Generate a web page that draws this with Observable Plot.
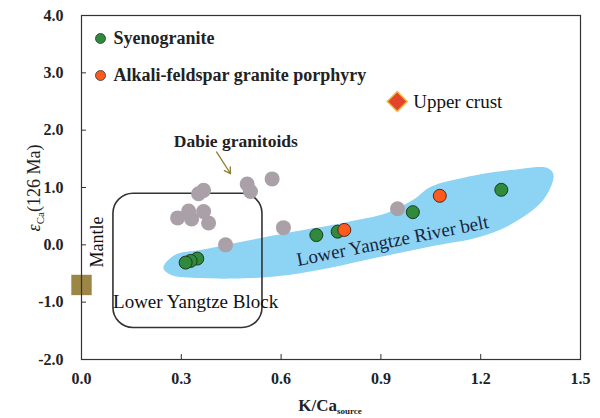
<!DOCTYPE html>
<html><head><meta charset="utf-8">
<script src="https://cdn.jsdelivr.net/npm/d3@7"></script>
<script src="https://cdn.jsdelivr.net/npm/@observablehq/plot@0.6"></script>
<style>
body{margin:0;background:#fff}
svg text, svg tspan { font-family: "Liberation Serif", "Times New Roman", "DejaVu Serif", serif !important; }
</style>
</head><body><div id="chart"></div>
<script>
const xTicks = [0, 0.3, 0.6, 0.9, 1.2, 1.5];
const yTicks = [-2, -1, 0, 1, 2, 3, 4];

const dabieX = [0.498, 0.508, 0.573, 0.367, 0.352, 0.289, 0.322, 0.331, 0.367, 0.382, 0.433, 0.607, 0.950];
const dabieY = [1.06, 0.93, 1.15, 0.95, 0.89, 0.47, 0.59, 0.45, 0.58, 0.38, 0.00, 0.30, 0.63];

const syenoX = [0.348, 0.328, 0.313, 0.706, 0.770, 0.996, 1.262];
const syenoY = [-0.24, -0.28, -0.31, 0.17, 0.23, 0.57, 0.96];

const porphX = [0.790, 1.077];
const porphY = [0.26, 0.855];

const upperCrust = {x: 0.949, y: 2.50};
const mantle = {x: 0.0, y: -0.70};

// outline of the Lower Yangtze River belt field
const beltX = [0.246, 0.283, 0.358, 0.478, 0.619, 0.800, 0.920, 0.998, 1.049, 1.148, 1.298, 1.401, 1.419, 1.389, 1.298, 1.199, 1.049, 0.899, 0.748, 0.628, 0.508, 0.358, 0.268];
const beltY = [-0.40, -0.17, -0.09, 0.05, 0.21, 0.40, 0.56, 0.79, 1.01, 1.17, 1.31, 1.34, 1.22, 0.79, 0.38, 0.14, -0.03, -0.21, -0.40, -0.52, -0.58, -0.58, -0.52];

// Lower Yangtze Block field (rounded box)
const blockBox = {x1: 0.096, x2: 0.544, y1: -1.45, y2: 0.89};

const legendLabels = ["Syenogranite", "Alkali-feldspar granite porphyry"];
const legendColors = ["#2f8a3c", "#ff5a1e"];

const pts = (xs, ys) => xs.map((x, i) => ({x, y: ys[i]}));
const dabie = pts(dabieX, dabieY);
const syeno = pts(syenoX, syenoY);
const porph = pts(porphX, porphY);
const belt = pts(beltX, beltY);

const FONT = "Liberation Serif, Times New Roman, serif";

const legendMarks = legendLabels.flatMap((label, i) => [
  Plot.dot([label], {frameAnchor: "top-left", dx: 19, dy: 23 + 37 * i, r: 5, fill: legendColors[i], stroke: "#333", strokeWidth: 0.8}),
  Plot.text([label], {frameAnchor: "top-left", lineAnchor: "middle", dx: 32, dy: 23 + 37 * i, text: d => d, textAnchor: "start", fontSize: 18, fontWeight: "bold", fill: "#222"})
]);

const chart = Plot.plot({
  width: 600, height: 418,
  marginLeft: 81, marginRight: 20, marginTop: 15, marginBottom: 59,
  style: {fontFamily: FONT, background: "#fff"},
  x: {domain: [0, 1.5]},
  y: {domain: [-2, 4]},
  marks: [
    Plot.line(belt, {x: "x", y: "y", curve: "catmull-rom-closed", fill: "#8dd3f3", stroke: "none"}),
    Plot.rect([blockBox], {x1: "x1", x2: "x2", y1: "y1", y2: "y2", rx: 20, fill: "none", stroke: "#333", strokeWidth: 1.6}),
    Plot.dot(dabie, {x: "x", y: "y", r: 7.5, fill: "#aaa0a8", stroke: "none"}),
    Plot.dot(syeno, {x: "x", y: "y", r: 6.5, fill: "#2f8a3c", stroke: "#1d3a1f", strokeWidth: 1}),
    Plot.dot(porph, {x: "x", y: "y", r: 6.5, fill: "#ff5a1e", stroke: "#4a2a1a", strokeWidth: 1}),
    Plot.dot([upperCrust], {x: "x", y: "y", symbol: "diamond2", r: 9, fill: "#e3452c", stroke: "#f5b942", strokeWidth: 1.5}),
    Plot.dot([mantle], {x: "x", y: "y", symbol: "square", r: 11.5, fill: "#9b8645", stroke: "none"}),
    Plot.arrow([{x1: 0.406, y1: 1.62, x2: 0.448, y2: 1.24}], {x1: "x1", y1: "y1", x2: "x2", y2: "y2", stroke: "#8b7d2e", strokeWidth: 1.3, headLength: 8}),
    // annotations
    Plot.text(["Dabie granitoids"], {x: 0.464, y: 1.80, text: d => d, fontSize: 17.5, fontWeight: "bold", fill: "#222"}),
    Plot.text(["Upper crust"], {x: upperCrust.x, y: upperCrust.y, text: d => d, dx: 16, textAnchor: "start", fontSize: 19, fill: "#111"}),
    Plot.text(["Lower Yangtze Block"], {x: 0.343, y: -0.995, text: d => d, fontSize: 19, fill: "#111"}),
    Plot.text(["Lower Yangtze River belt"], {x: 0.935, y: 0.07, text: d => d, rotate: -11.3, fontSize: 19, fill: "#1a2340"}),
    Plot.text(["Mantle"], {x: 0.048, y: 0.05, text: d => d, rotate: -90, fontSize: 18, fill: "#111"}),
    ...legendMarks,
    Plot.frame({stroke: "#333", strokeWidth: 1.2}),
    Plot.axisX(xTicks, {tickSize: 0, tickPadding: 13, tickFormat: d => d.toFixed(1), fontSize: 16, fontWeight: "bold", label: null, fill: "#222"}),
    Plot.axisX(xTicks, {tickSize: -5, tickFormat: () => "", label: null, stroke: "#333"}),
    Plot.axisY(yTicks, {tickSize: 0, tickPadding: 18, tickFormat: d => d.toFixed(1), fontSize: 16, fontWeight: "bold", label: null, fill: "#222"}),
    Plot.axisY(yTicks, {tickSize: -5, tickFormat: () => "", label: null, stroke: "#333"})
  ]
});

document.getElementById("chart").append(chart);

const svg = d3.select(chart);
// axis titles
const yl = svg.append("text").attr("font-size", 18).attr("fill", "#222")
  .attr("text-anchor", "middle").attr("transform", "translate(40,188) rotate(-90)");
yl.append("tspan").attr("font-style", "italic").text("ε");
yl.append("tspan").attr("font-size", 11).attr("dy", 4).text("Ca");
yl.append("tspan").attr("dy", -4).text("(126 Ma)");

const xl = svg.append("text").attr("font-size", 17).attr("font-weight", "bold").attr("fill", "#222")
  .attr("text-anchor", "middle").attr("x", 330).attr("y", 411);
xl.append("tspan").text("K/Ca");
xl.append("tspan").attr("font-size", 9).attr("dy", 3).text("source");
</script>
</body></html>
